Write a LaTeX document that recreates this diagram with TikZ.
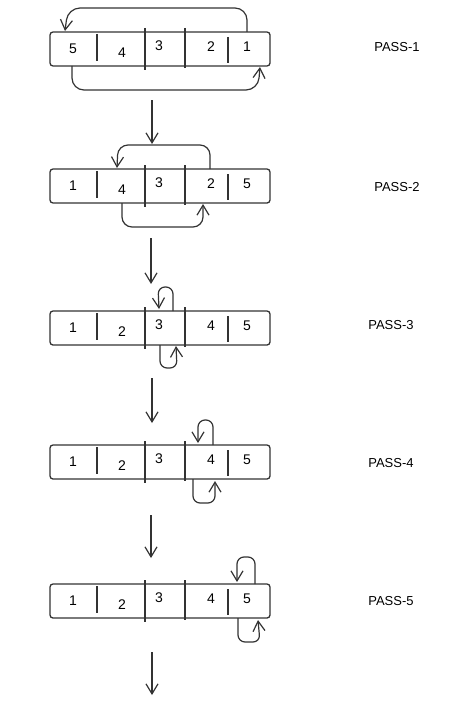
\documentclass[tikz,border=0pt]{standalone}
\usepackage{fontspec}
\setmainfont{Liberation Sans}
\usetikzlibrary{arrows.meta}
\definecolor{ink}{HTML}{333333}
\tikzset{
  box/.style={draw=ink, line width=1.3pt, rounded corners=3pt, minimum width=220pt, minimum height=34pt, inner sep=0pt},
  num/.style={font=\fontsize{14pt}{14pt}\selectfont, text=black, inner sep=0pt},
  lbl/.style={font=\fontsize{13pt}{13pt}\selectfont, text=black, inner sep=0pt},
  divi/.style={draw=ink, line width=1.3pt},
  arr/.style={draw=ink, line width=1.2pt, -{Straight Barb[length=10pt,width=12pt]}},
  loop/.style={arr, rounded corners=8pt},
}
\newcommand{\passrow}[8]{%
  % #1 name, #2 top y, #3..#7 numbers, #8 label
  \node[box] (#1) at (160,#2+17) {};
  \draw[divi] (97,#2+2) -- (97,#2+29);
  \draw[divi] (145,#2-4) -- (145,#2+38);
  \draw[divi] (185,#2-4) -- (185,#2+36);
  \draw[divi] (228,#2+5) -- (228,#2+31);
  \node[num] (#1a) at (73,#2+16.5) {#3};
  \node[num] (#1b) at (122,#2+21) {#4};
  \node[num] (#1c) at (159,#2+14) {#5};
  \node[num] (#1d) at (211,#2+14.5) {#6};
  \node[num] (#1e) at (247,#2+15) {#7};
}
\begin{document}
\begin{tikzpicture}[x=1pt,y=-1pt]
\useasboundingbox (0,0) rectangle (471,709);

\passrow{p1}{32}{5}{4}{3}{2}{1}{}
\passrow{p2}{169}{1}{4}{3}{2}{5}{}
\passrow{p3}{311}{1}{2}{3}{4}{5}{}
\passrow{p4}{445}{1}{2}{3}{4}{5}{}
\passrow{p5}{584}{1}{2}{3}{4}{5}{}

\node[lbl] (l1) at (397,47) {PASS-1};
\node[lbl] (l2) at (397,187) {PASS-2};
\node[lbl] (l3) at (391,325) {PASS-3};
\node[lbl] (l4) at (391,463) {PASS-4};
\node[lbl] (l5) at (391,601) {PASS-5};

% pass 1 swaps
\draw[loop, rounded corners=12pt] (247,32) -- (247,8) -- (68,8) -- (65,31);
\draw[loop, rounded corners=12pt] (72,66) -- (72,90) -- (258,90) -- (260,67);
% pass 2
\draw[loop, rounded corners=10pt] (210,169) -- (210,145) -- (118,145) -- (117,168);
\draw[loop, rounded corners=10pt] (122,203) -- (122,227) -- (203,227) -- (203,204);
% pass 3
\draw[loop, rounded corners=7pt] (173,311) -- (173,287) -- (158,287) -- (159,309);
\draw[loop, rounded corners=7pt] (160,345) -- (160,368) -- (177,368) -- (176,346);
% pass 4
\draw[loop, rounded corners=7pt] (213,445) -- (213,420) -- (198,420) -- (198,443);
\draw[loop, rounded corners=7pt] (193,479) -- (193,503) -- (215,503) -- (215,481);
% pass 5
\draw[loop, rounded corners=7pt] (255,584) -- (255,557) -- (237,557) -- (237,582);
\draw[loop, rounded corners=7pt] (238,618) -- (238,642) -- (260,642) -- (258,620);

% down arrows
\coordinate (d1s) at (152,100); \coordinate (d1e) at (152,144);
\coordinate (d2s) at (151,238); \coordinate (d2e) at (151,284);
\coordinate (d3s) at (152,378); \coordinate (d3e) at (152,423);
\coordinate (d4s) at (151,515); \coordinate (d4e) at (151,558);
\coordinate (d5s) at (152,652); \coordinate (d5e) at (152,695);
\draw[arr] (d1s) -- (d1e);
\draw[arr] (d2s) -- (d2e);
\draw[arr] (d3s) -- (d3e);
\draw[arr] (d4s) -- (d4e);
\draw[arr] (d5s) -- (d5e);
\end{tikzpicture}
\end{document}
